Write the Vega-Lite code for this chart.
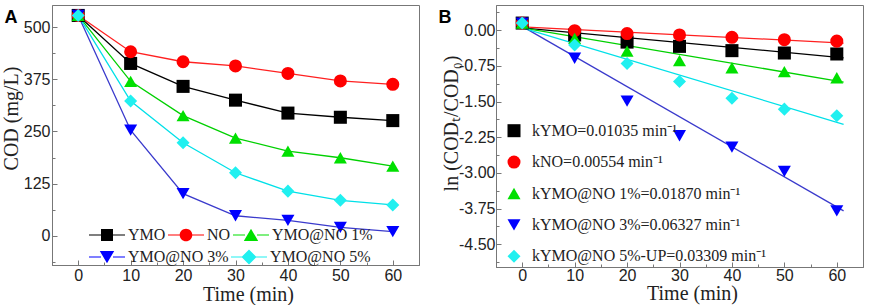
{
  "$schema": "https://vega.github.io/schema/vega-lite/v6.json",
  "padding": {"left": 0, "top": 4, "right": 0, "bottom": 0},
  "background": "white",
  "config": {
    "view": {"stroke": "#777777", "strokeWidth": 1},
    "axis": {"domainColor": "#777777", "tickColor": "#777777", "tickSize": -5, "grid": false,
      "labelFont": "Liberation Sans", "labelFontSize": 16, "labelColor": "#222222",
      "titleFont": "Liberation Serif", "titleFontSize": 20, "titleFontWeight": "normal", "titleColor": "#222222"},
    "legend": {"labelFont": "Liberation Serif", "labelFontSize": 16, "labelColor": "#222222", "labelLimit": 0},
    "concat": {"spacing": 17}
  },
  "datasets": {
    "codA": [
      {"t": 0, "series": "YMO", "cod": 528}, {"t": 10, "series": "YMO", "cod": 413}, {"t": 20, "series": "YMO", "cod": 358}, {"t": 30, "series": "YMO", "cod": 325}, {"t": 40, "series": "YMO", "cod": 294}, {"t": 50, "series": "YMO", "cod": 284}, {"t": 60, "series": "YMO", "cod": 276},
      {"t": 0, "series": "NO", "cod": 528}, {"t": 10, "series": "NO", "cod": 441}, {"t": 20, "series": "NO", "cod": 417}, {"t": 30, "series": "NO", "cod": 407}, {"t": 40, "series": "NO", "cod": 389}, {"t": 50, "series": "NO", "cod": 371}, {"t": 60, "series": "NO", "cod": 363},
      {"t": 0, "series": "YMO@NO 1%", "cod": 528}, {"t": 10, "series": "YMO@NO 1%", "cod": 370}, {"t": 20, "series": "YMO@NO 1%", "cod": 288}, {"t": 30, "series": "YMO@NO 1%", "cod": 234}, {"t": 40, "series": "YMO@NO 1%", "cod": 203}, {"t": 50, "series": "YMO@NO 1%", "cod": 187}, {"t": 60, "series": "YMO@NO 1%", "cod": 167},
      {"t": 0, "series": "YMO@NO 3%", "cod": 528}, {"t": 10, "series": "YMO@NO 3%", "cod": 253}, {"t": 20, "series": "YMO@NO 3%", "cod": 101}, {"t": 30, "series": "YMO@NO 3%", "cod": 48}, {"t": 40, "series": "YMO@NO 3%", "cod": 37}, {"t": 50, "series": "YMO@NO 3%", "cod": 20}, {"t": 60, "series": "YMO@NO 3%", "cod": 10},
      {"t": 0, "series": "YMO@NO 5%", "cod": 528}, {"t": 10, "series": "YMO@NO 5%", "cod": 323}, {"t": 20, "series": "YMO@NO 5%", "cod": 223}, {"t": 30, "series": "YMO@NO 5%", "cod": 151}, {"t": 40, "series": "YMO@NO 5%", "cod": 107}, {"t": 50, "series": "YMO@NO 5%", "cod": 85}, {"t": 60, "series": "YMO@NO 5%", "cod": 74}
    ],
    "lnB": [
      {"t": 0, "series": "YMO", "ln": 0.15}, {"t": 10, "series": "YMO", "ln": -0.10}, {"t": 20, "series": "YMO", "ln": -0.25}, {"t": 30, "series": "YMO", "ln": -0.34}, {"t": 40, "series": "YMO", "ln": -0.43}, {"t": 50, "series": "YMO", "ln": -0.48}, {"t": 60, "series": "YMO", "ln": -0.50},
      {"t": 0, "series": "NO", "ln": 0.15}, {"t": 10, "series": "NO", "ln": -0.01}, {"t": 20, "series": "NO", "ln": -0.07}, {"t": 30, "series": "NO", "ln": -0.10}, {"t": 40, "series": "NO", "ln": -0.15}, {"t": 50, "series": "NO", "ln": -0.20}, {"t": 60, "series": "NO", "ln": -0.23},
      {"t": 0, "series": "YMO@NO 1%", "ln": 0.15}, {"t": 10, "series": "YMO@NO 1%", "ln": -0.17}, {"t": 20, "series": "YMO@NO 1%", "ln": -0.44}, {"t": 30, "series": "YMO@NO 1%", "ln": -0.64}, {"t": 40, "series": "YMO@NO 1%", "ln": -0.79}, {"t": 50, "series": "YMO@NO 1%", "ln": -0.87}, {"t": 60, "series": "YMO@NO 1%", "ln": -1.00},
      {"t": 0, "series": "YMO@NO 3%", "ln": 0.15}, {"t": 10, "series": "YMO@NO 3%", "ln": -0.59}, {"t": 20, "series": "YMO@NO 3%", "ln": -1.49}, {"t": 30, "series": "YMO@NO 3%", "ln": -2.22}, {"t": 40, "series": "YMO@NO 3%", "ln": -2.46}, {"t": 50, "series": "YMO@NO 3%", "ln": -2.97}, {"t": 60, "series": "YMO@NO 3%", "ln": -3.80},
      {"t": 0, "series": "YMO@NO 5%", "ln": 0.15}, {"t": 10, "series": "YMO@NO 5%", "ln": -0.31}, {"t": 20, "series": "YMO@NO 5%", "ln": -0.70}, {"t": 30, "series": "YMO@NO 5%", "ln": -1.08}, {"t": 40, "series": "YMO@NO 5%", "ln": -1.43}, {"t": 50, "series": "YMO@NO 5%", "ln": -1.66}, {"t": 60, "series": "YMO@NO 5%", "ln": -1.80}
    ],
    "fitB": [
      {"t": 0, "series": "YMO", "fit": 0.05}, {"t": 61.3, "series": "YMO", "fit": -0.58},
      {"t": 0, "series": "NO", "fit": 0.07}, {"t": 61.3, "series": "NO", "fit": -0.27},
      {"t": 0, "series": "YMO@NO 1%", "fit": 0.05}, {"t": 61.3, "series": "YMO@NO 1%", "fit": -1.09},
      {"t": 0, "series": "YMO@NO 3%", "fit": 0.08}, {"t": 61.3, "series": "YMO@NO 3%", "fit": -3.80},
      {"t": 0, "series": "YMO@NO 5%", "fit": 0.05}, {"t": 61.3, "series": "YMO@NO 5%", "fit": -1.98}
    ]
  },
  "hconcat": [
    {
      "width": 367, "height": 260,
      "data": {"name": "codA"},
      "layer": [
        {
          "mark": {"type": "line", "strokeWidth": 1.3},
          "encoding": {
            "x": {"field": "t", "type": "quantitative", "scale": {"domain": [-5, 65], "nice": false, "zero": false},
              "axis": {"orient": "bottom", "values": [0, 10, 20, 30, 40, 50, 60], "title": "Time (min)", "titleX": 196, "labelPadding": 7, "titlePadding": 1}},
            "y": {"field": "cod", "type": "quantitative", "scale": {"domain": [-70, 553], "nice": false, "zero": false},
              "axis": {"orient": "left", "values": [0, 125, 250, 375, 500], "title": "COD (mg/L)", "titleY": 113, "labelPadding": 7, "titlePadding": 2}},
            "stroke": {"field": "series", "type": "nominal", "scale": {"domain": ["YMO", "NO", "YMO@NO 1%", "YMO@NO 3%", "YMO@NO 5%"], "range": ["#000000", "#ff2020", "#00d000", "#3a3acc", "#00e0e8"]}, "legend": null}
          }
        },
        {
          "transform": [{"filter": "datum.t < -100"}],
          "mark": {"type": "point"},
          "encoding": {
            "x": {"field": "t", "type": "quantitative",
              "axis": {"orient": "bottom", "values": [-5, 5, 15, 25, 35, 45, 55, 65], "labels": false, "domain": false, "title": null, "tickSize": -3}},
            "y": {"field": "cod", "type": "quantitative",
              "axis": {"orient": "left", "values": [-62.5, 62.5, 187.5, 312.5, 437.5], "labels": false, "domain": false, "title": null, "tickSize": -3}}
          }
        },
        {
          "mark": {"type": "point", "filled": true, "size": 170, "opacity": 1, "strokeWidth": 0},
          "encoding": {
            "x": {"field": "t", "type": "quantitative", "axis": null},
            "y": {"field": "cod", "type": "quantitative", "axis": null},
            "fill": {"field": "series", "type": "nominal", "scale": {"domain": ["YMO", "NO", "YMO@NO 1%", "YMO@NO 3%", "YMO@NO 5%"], "range": ["#000000", "#ff0000", "#00e000", "#0000ff", "#20f0f0"]}, "legend": null},
            "shape": {"field": "series", "type": "nominal", "scale": {"domain": ["YMO", "NO", "YMO@NO 1%", "YMO@NO 3%", "YMO@NO 5%"], "range": ["square", "circle", "triangle-up", "triangle-down", "diamond"]}, "legend": null}
          }
        },
        {
          "transform": [{"filter": "datum.t < -100"}],
          "mark": {"type": "point", "filled": true, "size": 144, "opacity": 1, "strokeWidth": 0},
          "encoding": {
            "x": {"field": "t", "type": "quantitative",
              "axis": {"orient": "top", "title": "A", "titleX": -48, "titleY": 3, "titleAlign": "left", "titleBaseline": "top", "titleAngle": 0, "titleFont": "Liberation Sans", "titleFontSize": 18, "titleFontWeight": "bold", "titleColor": "#000000", "labels": false, "ticks": false, "domain": false, "minExtent": 0, "maxExtent": 0}},
            "y": {"field": "cod", "type": "quantitative", "axis": null},
            "fill": {"field": "series", "type": "nominal", "scale": {"domain": ["YMO", "NO", "YMO@NO 1%"], "range": ["#000000", "#ff0000", "#00e000"]},
              "legend": {"title": null, "orient": "none", "legendX": 35, "legendY": 222, "direction": "horizontal", "columnPadding": -12, "symbolSize": 144, "symbolStrokeWidth": 0, "symbolOffset": 12, "labelOffset": 13, "padding": 0}},
            "shape": {"field": "series", "type": "nominal", "scale": {"domain": ["YMO", "NO", "YMO@NO 1%"], "range": [
              "M-3,-0.1H-1V0.1H-3Z M1,-0.1H3V0.1H1Z M-1,-1H1V1H-1Z",
              "M-3,-0.1H-1V0.1H-3Z M1,-0.1H3V0.1H1Z M-1.05,0A1.05,1.05 0 1 1 1.05,0A1.05,1.05 0 1 1 -1.05,0Z",
              "M-3,-0.1H-1V0.1H-3Z M1,-0.1H3V0.1H1Z M0,-1.05L1.2,1H-1.2Z"
            ]},
              "legend": {"title": null, "orient": "none", "legendX": 35, "legendY": 222, "direction": "horizontal", "columnPadding": -12, "symbolSize": 144, "symbolStrokeWidth": 0, "symbolOffset": 12, "labelOffset": 13, "padding": 0}}
          }
        },
        {
          "transform": [{"filter": "datum.t < -100"}],
          "mark": {"type": "point", "filled": true, "size": 144, "opacity": 1, "strokeWidth": 0},
          "encoding": {
            "x": {"field": "t", "type": "quantitative", "axis": null},
            "y": {"field": "cod", "type": "quantitative", "axis": null},
            "fill": {"field": "series", "type": "nominal", "scale": {"domain": ["YMO@NO 3%", "YMO@NO 5%"], "range": ["#0000ff", "#20f0f0"]},
              "legend": {"title": null, "orient": "none", "legendX": 35, "legendY": 244, "direction": "horizontal", "columnPadding": -12, "symbolSize": 144, "symbolStrokeWidth": 0, "symbolOffset": 12, "labelOffset": 13, "padding": 0}},
            "shape": {"field": "series", "type": "nominal", "scale": {"domain": ["YMO@NO 3%", "YMO@NO 5%"], "range": [
              "M-3,-0.1H-1V0.1H-3Z M1,-0.1H3V0.1H1Z M0,1.05L1.2,-1H-1.2Z",
              "M-3,-0.1H-1V0.1H-3Z M1,-0.1H3V0.1H1Z M0,-1.25L1.25,0L0,1.25L-1.25,0Z"
            ]},
              "legend": {"title": null, "orient": "none", "legendX": 35, "legendY": 244, "direction": "horizontal", "columnPadding": -12, "symbolSize": 144, "symbolStrokeWidth": 0, "symbolOffset": 12, "labelOffset": 13, "padding": 0}}
          }
        }
      ],
      "resolve": {"scale": {"fill": "independent", "shape": "independent"}, "axis": {"x": "independent", "y": "independent"}}
    },
    {
      "width": 367, "height": 262,
      "data": {"name": "lnB"},
      "layer": [
        {
          "data": {"name": "fitB"},
          "mark": {"type": "line", "strokeWidth": 1.3},
          "encoding": {
            "x": {"field": "t", "type": "quantitative", "scale": {"domain": [-5, 65], "nice": false, "zero": false},
              "axis": {"orient": "bottom", "values": [0, 10, 20, 30, 40, 50, 60], "title": "Time (min)", "titleX": 196, "labelPadding": 5, "titlePadding": 0}},
            "y": {"field": "fit", "type": "quantitative", "scale": {"domain": [-4.98, 0.53], "nice": false, "zero": false},
              "axis": {"orient": "left", "values": [0, -0.75, -1.5, -2.25, -3, -3.75, -4.5], "format": ".2f", "labelExpr": "replace(datum.label, '\u2212', '-')", "title": "ln (COD\u209c/COD\u2080)", "titleY": 118, "labelPadding": 6, "titlePadding": -3}},
            "stroke": {"field": "series", "type": "nominal", "scale": {"domain": ["YMO", "NO", "YMO@NO 1%", "YMO@NO 3%", "YMO@NO 5%"], "range": ["#000000", "#ff2020", "#00d000", "#3a3acc", "#00e0e8"]}, "legend": null}
          }
        },
        {
          "transform": [{"filter": "datum.t < -100"}],
          "mark": {"type": "point"},
          "encoding": {
            "x": {"field": "t", "type": "quantitative",
              "axis": {"orient": "bottom", "values": [-5, 5, 15, 25, 35, 45, 55, 65], "labels": false, "domain": false, "title": null, "tickSize": -3}},
            "y": {"field": "ln", "type": "quantitative",
              "axis": {"orient": "left", "values": [0.375, -0.375, -1.125, -1.875, -2.625, -3.375, -4.125, -4.875], "labels": false, "domain": false, "title": null, "tickSize": -3}}
          }
        },
        {
          "mark": {"type": "point", "filled": true, "size": 170, "opacity": 1, "strokeWidth": 0},
          "encoding": {
            "x": {"field": "t", "type": "quantitative", "axis": null},
            "y": {"field": "ln", "type": "quantitative", "axis": null},
            "fill": {"field": "series", "type": "nominal", "scale": {"domain": ["YMO", "NO", "YMO@NO 1%", "YMO@NO 3%", "YMO@NO 5%"], "range": ["#000000", "#ff0000", "#00e000", "#0000ff", "#20f0f0"]}, "legend": null},
            "shape": {"field": "series", "type": "nominal", "scale": {"domain": ["YMO", "NO", "YMO@NO 1%", "YMO@NO 3%", "YMO@NO 5%"], "range": ["square", "circle", "triangle-up", "triangle-down", "diamond"]}, "legend": null}
          }
        },
        {
          "transform": [{"filter": "datum.t < -100"}],
          "mark": {"type": "point", "filled": true, "size": 169, "opacity": 1, "strokeWidth": 0},
          "encoding": {
            "x": {"field": "t", "type": "quantitative",
              "axis": {"orient": "top", "title": "B", "titleX": -58, "titleY": 3, "titleAlign": "left", "titleBaseline": "top", "titleAngle": 0, "titleFont": "Liberation Sans", "titleFontSize": 18, "titleFontWeight": "bold", "titleColor": "#000000", "labels": false, "ticks": false, "domain": false, "minExtent": 0, "maxExtent": 0}},
            "y": {"field": "ln", "type": "quantitative", "axis": null},
            "fill": {"field": "series", "type": "nominal", "scale": {"domain": ["YMO", "NO", "YMO@NO 1%", "YMO@NO 3%", "YMO@NO 5%"], "range": ["#000000", "#ff0000", "#00e000", "#0000ff", "#20f0f0"]},
              "legend": {"title": null, "orient": "none", "legendX": 0, "legendY": 117.7, "direction": "vertical", "rowPadding": 15.4, "symbolSize": 169, "symbolStrokeWidth": 0, "symbolOffset": 10, "labelOffset": 10, "padding": 0,
                "labelExpr": "datum.label == 'YMO' ? 'kYMO=0.01035 min\u207b\u00b9' : datum.label == 'NO' ? 'kNO=0.00554 min\u207b\u00b9' : datum.label == 'YMO@NO 1%' ? 'kYMO@NO 1%=0.01870 min\u207b\u00b9' : datum.label == 'YMO@NO 3%' ? 'kYMO@NO 3%=0.06327 min\u207b\u00b9' : 'kYMO@NO 5%-UP=0.03309 min\u207b\u00b9'"}},
            "shape": {"field": "series", "type": "nominal", "scale": {"domain": ["YMO", "NO", "YMO@NO 1%", "YMO@NO 3%", "YMO@NO 5%"], "range": ["square", "circle", "triangle-up", "triangle-down", "diamond"]},
              "legend": {"title": null, "orient": "none", "legendX": 0, "legendY": 117.7, "direction": "vertical", "rowPadding": 15.4, "symbolSize": 169, "symbolStrokeWidth": 0, "symbolOffset": 10, "labelOffset": 10, "padding": 0,
                "labelExpr": "datum.label == 'YMO' ? 'kYMO=0.01035 min\u207b\u00b9' : datum.label == 'NO' ? 'kNO=0.00554 min\u207b\u00b9' : datum.label == 'YMO@NO 1%' ? 'kYMO@NO 1%=0.01870 min\u207b\u00b9' : datum.label == 'YMO@NO 3%' ? 'kYMO@NO 3%=0.06327 min\u207b\u00b9' : 'kYMO@NO 5%-UP=0.03309 min\u207b\u00b9'"}}
          }
        }
      ],
      "resolve": {"scale": {"fill": "independent", "shape": "independent"}, "axis": {"x": "independent", "y": "independent"}}
    }
  ],
  "resolve": {"scale": {"fill": "independent", "shape": "independent", "stroke": "independent"}}
}
